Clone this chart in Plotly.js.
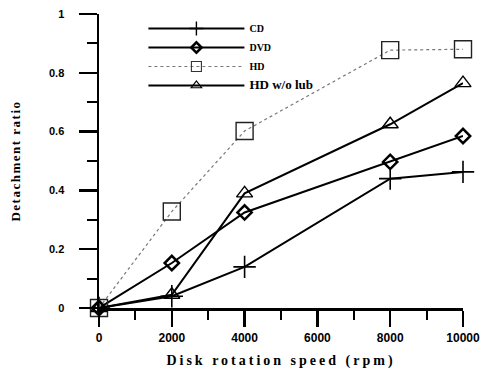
<!DOCTYPE html>
<html><head><meta charset="utf-8">
<script src="https://cdn.plot.ly/plotly-3.0.1.min.js"></script>
<style>
body{margin:0;padding:0;background:#fff;}
#chart{width:485px;height:372px;}
.xtitle{letter-spacing:3px;}
.ytitle{letter-spacing:1.5px;}
.legend .traces{opacity:1 !important;}
</style>
</head><body>
<div id="chart"></div>
<script>
const speed = [0, 2000, 4000, 8000, 10000];
const cd = [0, 0.04, 0.14, 0.44, 0.463];
const dvd = [0, 0.153, 0.325, 0.497, 0.585];
const hd = [0, 0.328, 0.602, 0.877, 0.88];
const hdNoLub = [0, 0.045, 0.39, 0.625, 0.765];
const names = ['CD', 'DVD', 'HD', '<span style="font-size:13px">HD w/o lub</span>'];
const xTickVals = [0, 2000, 4000, 6000, 8000, 10000];
const xTickText = ['0', '2000', '4000', '6000', '8000', '10000'];
const yTickVals = [0, 0.2, 0.4, 0.6, 0.8, 1];
const yTickText = ['0', '0.2', '0.4', '0.6', '0.8', '1'];

const series = [cd, dvd, hd, hdNoLub];
const lines = [
  {color: '#000', width: 2},
  {color: '#000', width: 2},
  {color: '#777', width: 1.2, dash: 'dot'},
  {color: '#000', width: 2}
];
const markers = [
  {symbol: 'cross-thin-open', size: 16, color: '#000', line: {color: '#000', width: 1.6}},
  {symbol: 'diamond-open', size: 11, color: '#000', line: {color: '#000', width: 2.5}},
  {symbol: 'square-open', size: 17, color: '#222', line: {color: '#222', width: 1.4}},
  {symbol: 'triangle-up-open', size: 14, color: '#000', line: {color: '#000', width: 1.4}}
];
const legendMarkers = [
  {symbol: 'cross-thin-open', size: 10, color: '#000', line: {color: '#000', width: 1.4}},
  {symbol: 'diamond-open', size: 8, color: '#000', line: {color: '#000', width: 2.5}},
  {symbol: 'square-open', size: 10, color: '#333', line: {color: '#333', width: 1.1}},
  {symbol: 'triangle-up-open', size: 9, color: '#000', line: {color: '#000', width: 1.2}}
];

const traces = [];
series.forEach((s, i) => {
  traces.push({x: speed, y: s, name: names[i], mode: 'lines+markers', showlegend: false,
    cliponaxis: false, line: lines[i], marker: markers[i]});
});
series.forEach((s, i) => {
  traces.push({x: speed, y: s, name: names[i], mode: 'lines+markers', visible: 'legendonly',
    showlegend: true, line: lines[i], marker: legendMarkers[i]});
});

const layout = {
  width: 485, height: 372,
  margin: {l: 99, r: 22, t: 14, b: 64},
  paper_bgcolor: '#fff', plot_bgcolor: '#fff',
  showlegend: true,
  legend: {x: 0.122, y: 1.0, xanchor: 'left', yanchor: 'top',
    bgcolor: 'rgba(0,0,0,0)', itemwidth: 96, tracegroupgap: 0,
    font: {family: 'Liberation Serif', size: 10, color: '#000', weight: 'bold'}},
  xaxis: {
    range: [0, 10000], tickvals: xTickVals, ticktext: xTickText,
    ticks: 'outside', ticklen: 16, tickwidth: 2.5, tickcolor: '#000',
    minor: {dtick: 1000, ticks: 'outside', ticklen: 9, tickwidth: 2, tickcolor: '#000'},
    showline: true, linecolor: '#000', linewidth: 2.5, showgrid: false, zeroline: false,
    ticklabelstandoff: 1,
    tickfont: {family: 'Liberation Sans', size: 12, color: '#000', weight: 'bold'},
    title: {text: 'Disk rotation speed (rpm)', standoff: 12,
      font: {family: 'Liberation Serif', size: 14, color: '#000', weight: 'bold'}}
  },
  yaxis: {
    range: [0, 1], tickvals: yTickVals, ticktext: yTickText,
    ticks: 'outside', ticklen: 18, tickwidth: 2.5, tickcolor: '#000',
    minor: {dtick: 0.1, ticks: 'outside', ticklen: 10, tickwidth: 2, tickcolor: '#000'},
    showline: true, linecolor: '#000', linewidth: 2.5, showgrid: false, zeroline: false,
    ticklabelstandoff: 12,
    tickfont: {family: 'Liberation Sans', size: 11, color: '#000', weight: 'bold'},
    title: {text: 'Detachment ratio', standoff: 26,
      font: {family: 'Liberation Serif', size: 13, color: '#000', weight: 'bold'}}
  }
};
Plotly.newPlot('chart', traces, layout, {displayModeBar: false, staticPlot: true});
</script>
</body></html>
